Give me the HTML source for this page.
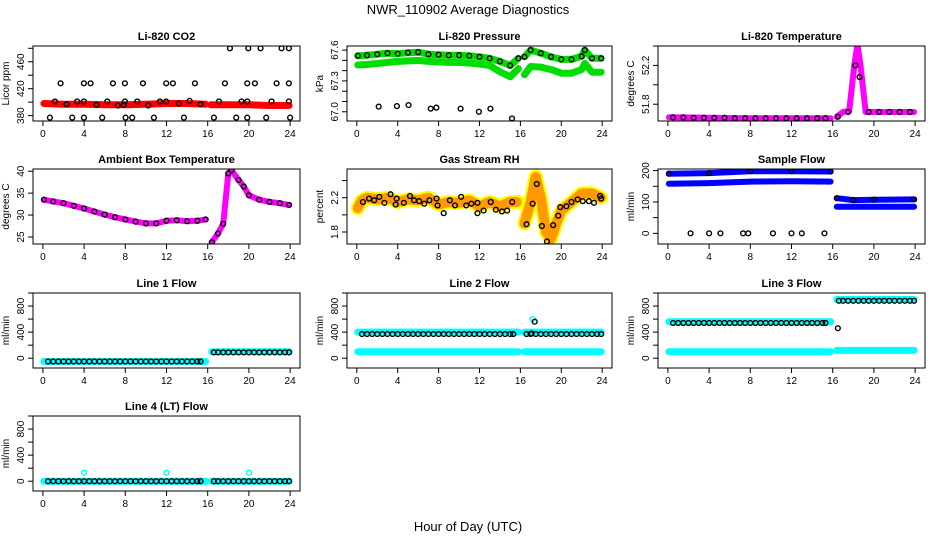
<!DOCTYPE html>
<html><head><meta charset="utf-8"><style>
html,body{margin:0;padding:0;background:#fff;}
svg{display:block;font-family:"Liberation Sans",sans-serif;}
</style></head><body>
<svg id="chart" width="936" height="540" viewBox="0 0 936 540">
<text x="468" y="14" text-anchor="middle" font-size="13">NWR_110902  Average Diagnostics</text>
<text x="468" y="531" text-anchor="middle" font-size="13">Hour of Day (UTC)</text>
</svg>
<script>
// ---------- data ----------
const xTicks = [0,4,8,12,16,20,24];
// CO2
const co2RedT = [0.1,2,4,6,8,10,12,14,15.8,null,16.3,18,20,22,23.9];
const co2RedV = [398,397,397,396,396,397,398,398,397,null,396,396,396,395,395];
const co2CircT = [0.68,2.85,3.98,5.76,8.03,8.67,10.78,13.69,16.6,18.77,19.84,21.68,24.0,1.72,3.98,4.63,6.8,7.96,9.71,11.97,12.62,14.76,17.67,19.84,20.58,22.69,23.88,1.17,2.3,3.33,3.98,5.21,6.25,7.28,7.86,7.96,9.16,10.23,11.36,11.97,13.2,14.24,15.31,17.09,19.29,19.84,22.2,23.88,18.16,19.94,21.13,23.17,23.88];
const co2CircV = [377,377,377,377,377,377,377,377,377,377,377,377,377,428,428,428,428,428,428,428,428,428,428,428,428,428,428,401,397,401,401,396,401,395,396,401,401,395,401,401,398,402,397,401,401,401,401,401,480,480,480,480,480];
// Pressure
const presT = [0.1,1,2,3,4,5,6,7,8,9,10,11,12,13,14,15,15.8,null,16.4,17,18,19,20,21,22,22.3,23,23.9];
const presUpper = [67.545,67.55,67.56,67.57,67.565,67.575,67.58,67.56,67.555,67.55,67.55,67.545,67.535,67.52,67.49,67.45,67.52,null,67.535,67.6,67.57,67.535,67.51,67.51,67.54,67.6,67.52,67.52];
const presLower = [67.455,67.46,67.47,67.48,67.49,67.495,67.5,67.49,67.485,67.48,67.48,67.475,67.465,67.45,67.39,67.34,67.42,null,67.36,67.44,67.435,67.41,67.375,67.375,67.41,67.47,67.385,67.385];
const presOutT = [2.14,3.92,5.06,7.23,7.78,10.15,11.94,13.07,15.18];
const presOutV = [67.05,67.055,67.065,67.03,67.04,67.03,67.0,67.03,66.935];
// Li-820 temperature
const ltT = [0.1,4,8,12,15.8,null,16.4,17,17.6,18.1,18.4,18.7,19.2,20,22,23.9];
const ltV = [51.665,51.66,51.655,51.655,51.655,null,51.67,51.72,51.73,52.2,52.42,52.2,51.72,51.72,51.72,51.72];
const ltCircT = [0.5,1.5,2.5,3.5,4.5,5.5,6.5,7.5,8.5,9.5,10.5,11.5,12.5,13.5,14.5,15.3,16.5,17.5,18.2,18.6,19.5,20.5,21.5,22.5,23.5];
const ltCircV = [51.665,51.665,51.66,51.66,51.66,51.66,51.655,51.655,51.655,51.655,51.655,51.655,51.655,51.655,51.655,51.655,51.67,51.72,52.2,52.08,51.72,51.72,51.72,51.72,51.72];
// Ambient
const ambT = [0.1,1,2,3,4,5,6,7,8,9,10,11,12,13,14,15,15.8,null,16.4,17,17.5,18,18.3,19,19.5,20,21,22,23,23.9];
const ambV = [33.5,33.1,32.7,32.1,31.5,30.8,30.1,29.5,29,28.5,28.1,28.1,28.7,28.8,28.6,28.7,29.0,null,23.8,25.8,28,39.5,40.2,38,36.5,34.5,33.5,33,32.7,32.3];
// RH
const rhT = [0.1,0.5,1,2,3,4,5,6,7,8,9,10,11,12,13,14,15,15.8,null,16.4,17,17.5,18,18.5,19,19.5,20,21,22,23,23.9];
const rhV = [2.08,2.17,2.2,2.18,2.2,2.15,2.18,2.17,2.2,2.12,2.15,2.14,2.17,2.1,2.15,2.1,2.15,2.15,null,1.9,2.15,2.45,2.2,1.8,1.72,1.9,2.05,2.15,2.25,2.25,2.2];
const rhCircT = [0.6,1.2,1.7,2.2,2.7,3.3,3.8,3.9,4.6,5.2,5.6,6.1,6.6,7.1,7.8,7.9,8.5,9.1,9.6,10.2,10.7,11.2,11.8,11.8,12.4,13.1,13.6,14.2,14.7,15.2,16.6,17.2,17.6,18.1,18.6,19.2,19.7,19.9,20.5,21.0,21.6,22.1,22.7,23.2,23.8,23.9];
const rhCircV = [2.15,2.19,2.17,2.21,2.14,2.24,2.12,2.19,2.14,2.22,2.17,2.16,2.13,2.17,2.19,2.11,2.02,2.17,2.11,2.21,2.11,2.13,2.02,2.14,2.05,2.15,2.06,2.04,2.05,2.15,1.89,2.13,2.36,1.87,1.69,1.88,1.99,2.09,2.1,2.15,2.18,2.16,2.16,2.14,2.22,2.19];
// Sample flow
const sfT = [0.1,4,8,12,15.8,null,16.4,18,20,23.9];
const sfUpper = [190,192,198,198,197,null,112,106,107,108];
const sfLower = [158,160,165,166,165,null,85,85,85,85];
const sfZeroT = [2.2,4,5.1,7.3,7.8,10.2,12,13,15.2];
const sfZeroV = [0,0,0,0,0,0,0,0,0];
// Line flows
const lfT = [0.1,15.8,null,16.4,23.9];
const line1V = [-50,-50,null,100,100];
const line2Upper = [400,400,null,400,400];
const line2Lower = [100,100,null,100,100];
const line2SpikeT = [17.2];
const line2SpikeV = [600];
const line2OutT = [17.1,17.4];
const line2OutV = [380,560];
const line3Upper = [560,560,null,900,900];
const line3Lower = [100,100,null,120,120];
const line3OutT = [16.5];
const line3OutV = [460];
const line4V = [0,0,null,0,0];
const line4OutT = [4,12,20];
const line4OutV = [130,130,130];
const circHours = [0.5,1,1.5,2,2.5,3,3.5,4,4.5,5,5.5,6,6.5,7,7.5,8,8.5,9,9.5,10,10.5,11,11.5,12,12.5,13,13.5,14,14.5,15,15.3,16.6,17,17.5,18,18.5,19,19.5,20,20.5,21,21.5,22,22.5,23,23.5,23.9];
const line1CircV = circHours.map(h => h < 16 ? -50 : 90);
const line2CircV = circHours.map(h => 370);
const line3CircV = circHours.map(h => h < 16 ? 540 : 880);
const line4CircV = circHours.map(h => 0);

// ---------- drawing ----------
const NS = "http://www.w3.org/2000/svg";
const svg = document.getElementById('chart');
const colL = [33,347,658], rowT = [46,169,293,416], W = 267, H = 75;
function mk(tag, attrs, parent) {
  const e = document.createElementNS(NS, tag);
  for (const k in attrs) e.setAttribute(k, attrs[k]);
  (parent || svg).appendChild(e);
  return e;
}
function panel(col, row, title, ylab, ymin, ymax, yTicks, yLabels, draw) {
  const x0 = colL[col], y0 = rowT[row], w = (col === 1 ? 265 : W);
  const g = mk('g', {});
  
  
  const xs = t => x0 + (t + 0.96) / 25.92 * w;
  const ys = v => y0 + H - (v - ymin) / (ymax - ymin) * H;
  const clip = mk('clipPath', {id: 'c' + col + row}, g);
  mk('rect', {x: x0, y: y0, width: w, height: H}, clip);
  const pg = mk('g', {'clip-path': 'url(#c' + col + row + ')'}, g);
  draw(pg, xs, ys);
  const box = mk('rect', {x: x0, y: y0, width: w, height: H, fill: 'none', stroke: '#000', 'stroke-width': 1}, g);
  
  
  const t = mk('text', {x: x0 + w / 2, y: y0 - 6, 'text-anchor': 'middle', 'font-size': 11, 'font-weight': 'bold'}, g);
  t.textContent = title;
  
  
  const xb = y0 + H;
  mk('line', {x1: xs(0), x2: xs(24), y1: xb, y2: xb, stroke: '#000'}, g);
  xTicks.forEach(v => {
    mk('line', {x1: xs(v), x2: xs(v), y1: xb, y2: xb + 5, stroke: '#000'}, g);
    const l = mk('text', {x: xs(v), y: xb + 16, 'text-anchor': 'middle', 'font-size': 10}, g);
    l.textContent = v;
    
    
  });
  mk('line', {x1: x0, x2: x0, y1: ys(yTicks[0]), y2: ys(yTicks[yTicks.length - 1]), stroke: '#000'}, g);
  yTicks.forEach(v => mk('line', {x1: x0 - 5, x2: x0, y1: ys(v), y2: ys(v), stroke: '#000'}, g));
  yLabels.forEach(v => {
    const yy = ys(parseFloat(v));
    const l = mk('text', {x: x0 - 9, y: yy, 'text-anchor': 'middle', 'font-size': 10, transform: 'rotate(-90 ' + (x0 - 9) + ' ' + yy + ')'}, g);
    l.textContent = v;
    
    
  });
  const yl = mk('text', {x: x0 - 24, y: y0 + H / 2, 'text-anchor': 'middle', 'font-size': 10, transform: 'rotate(-90 ' + (x0 - 24) + ' ' + (y0 + H / 2) + ')'}, g);
  yl.textContent = ylab;
  
  
}
function band(g, xs, ys, T, V, color, width, name) {
  let d = '', pen = false;
  T.forEach((t, i) => {
    if (t === null || V[i] === null) { pen = false; return; }
    d += (pen ? 'L' : 'M') + xs(t).toFixed(1) + ' ' + ys(V[i]).toFixed(1) + ' ';
    pen = true;
  });
  const p = mk('path', {d: d, fill: 'none', stroke: color, 'stroke-width': width, 'stroke-linejoin': 'round', 'stroke-linecap': 'round'}, g);
  
  
  return p;
}
function circles(g, xs, ys, T, V, color, name) {
  const cg = mk('g', {}, g);
  
  
  T.forEach((t, i) => {
    const c = mk('circle', {cx: xs(t), cy: ys(V[i]), r: 2.4, fill: 'none', stroke: color, 'stroke-width': 1.4}, cg);
    
    
  });
}

panel(0, 0, 'Li-820 CO2', 'Licor ppm', 372, 483.4, [380,400,420,440,460,480], ['380','420','460'], (g, xs, ys) => {
  band(g, xs, ys, co2RedT, co2RedV, '#f00', 7, 'co2-series');
  circles(g, xs, ys, co2CircT, co2CircV, '#000', 'co2-averages');
});
panel(1, 0, 'Li-820 Pressure', 'kPa', 66.91, 67.64, [67.0,67.1,67.2,67.3,67.4,67.5,67.6], ['67.0','67.3','67.6'], (g, xs, ys) => {
  band(g, xs, ys, presT, presUpper, '#0d0', 7, 'pressure-upper');
  band(g, xs, ys, presT, presLower, '#0d0', 7, 'pressure-lower');
  circles(g, xs, ys, presT.filter(t => t !== null), presUpper.filter(v => v !== null), '#000', 'pressure-averages');
  circles(g, xs, ys, presOutT, presOutV, '#000', 'pressure-outliers');
});
panel(2, 0, 'Li-820 Temperature', 'degrees C', 51.627, 52.4, [51.8,52.0,52.2,52.4], ['51.8','52.2'], (g, xs, ys) => {
  band(g, xs, ys, ltT, ltV, '#f0f', 6, 'licor-temp-series');
  circles(g, xs, ys, ltCircT, ltCircV, '#000', 'licor-temp-averages');
});
panel(0, 1, 'Ambient Box Temperature', 'degrees C', 23.4, 40.5, [25,30,35,40], ['25','30','35','40'], (g, xs, ys) => {
  band(g, xs, ys, ambT, ambV, '#f0f', 6, 'ambient-temp-series');
  circles(g, xs, ys, ambT.filter(t => t !== null), ambV.filter(v => v !== null), '#000', 'ambient-temp-averages');
});
panel(1, 1, 'Gas Stream RH', 'percent', 1.66, 2.535, [1.8,2.0,2.2,2.4], ['1.8','2.2'], (g, xs, ys) => {
  band(g, xs, ys, rhT, rhV, '#ff0', 14, 'rh-series');
  band(g, xs, ys, rhT, rhV, '#f90', 10, 'rh-series-dots').setAttribute('stroke-dasharray', '1.5 2');
  circles(g, xs, ys, rhCircT, rhCircV, '#000', 'rh-averages');
});
panel(2, 1, 'Sample Flow', 'ml/min', -34, 205, [0,50,100,150,200], ['0','100','200'], (g, xs, ys) => {
  band(g, xs, ys, sfT, sfUpper, '#00f', 6, 'sample-flow-upper');
  band(g, xs, ys, sfT, sfLower, '#00f', 6, 'sample-flow-lower');
  circles(g, xs, ys, sfT.filter(t => t !== null), sfUpper.filter(v => v !== null), '#000', 'sample-flow-averages');
  circles(g, xs, ys, sfZeroT, sfZeroV, '#000', 'sample-flow-zeros');
});
const fTicks = [0,200,400,600,800,1000], fLabels = ['0','400','800'];
panel(0, 2, 'Line 1 Flow', 'ml/min', -150, 1000, fTicks, fLabels, (g, xs, ys) => {
  band(g, xs, ys, lfT, line1V, '#0ff', 7, 'line1-series');
  circles(g, xs, ys, circHours, line1CircV, '#000', 'line1-averages');
});
panel(1, 2, 'Line 2 Flow', 'ml/min', -150, 1000, fTicks, fLabels, (g, xs, ys) => {
  band(g, xs, ys, lfT, line2Upper, '#0ff', 7, 'line2-upper');
  band(g, xs, ys, lfT, line2Lower, '#0ff', 7, 'line2-lower');
  circles(g, xs, ys, line2SpikeT, line2SpikeV, '#0ff', 'line2-spike');
  circles(g, xs, ys, circHours, line2CircV, '#000', 'line2-averages');
  circles(g, xs, ys, line2OutT, line2OutV, '#000', 'line2-outliers');
});
panel(2, 2, 'Line 3 Flow', 'ml/min', -150, 1000, fTicks, fLabels, (g, xs, ys) => {
  band(g, xs, ys, lfT, line3Upper, '#0ff', 7, 'line3-upper');
  band(g, xs, ys, lfT, line3Lower, '#0ff', 7, 'line3-lower');
  circles(g, xs, ys, circHours, line3CircV, '#000', 'line3-averages');
  circles(g, xs, ys, line3OutT, line3OutV, '#000', 'line3-outliers');
});
panel(0, 3, 'Line 4 (LT) Flow', 'ml/min', -150, 1000, fTicks, fLabels, (g, xs, ys) => {
  band(g, xs, ys, lfT, line4V, '#0ff', 7, 'line4-series');
  circles(g, xs, ys, line4OutT, line4OutV, '#0ff', 'line4-outliers');
  circles(g, xs, ys, circHours, line4CircV, '#000', 'line4-averages');
});
</script>
</body></html>
